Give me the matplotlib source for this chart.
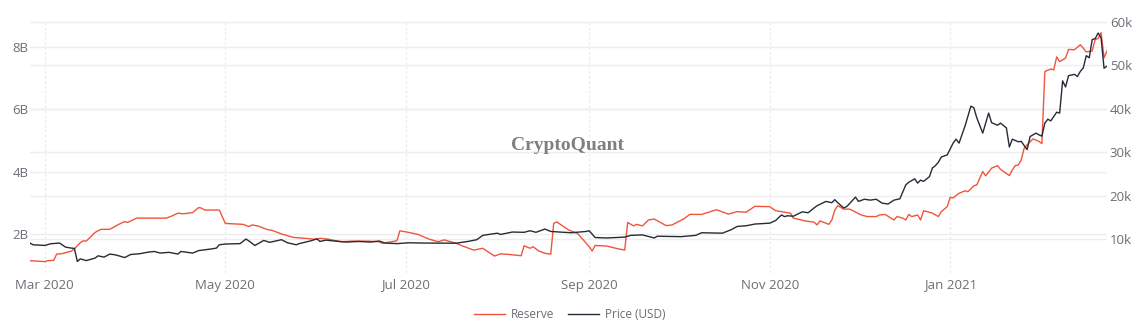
import pandas as pd
import matplotlib.pyplot as plt
import matplotlib.transforms as mtransforms
from matplotlib.lines import Line2D

plt.rcParams['font.family'] = ['Open Sans', 'DejaVu Sans']

# Exchange reserve (billions USD)
reserve_dates = [
    '2020-02-25', '2020-03-01', '2020-03-02', '2020-03-04', '2020-03-05', '2020-03-07',
    '2020-03-10', '2020-03-11', '2020-03-13', '2020-03-14', '2020-03-15', '2020-03-18',
    '2020-03-20', '2020-03-23', '2020-03-26', '2020-03-28', '2020-03-29', '2020-04-01',
    '2020-04-11', '2020-04-13', '2020-04-15', '2020-04-17', '2020-04-20', '2020-04-22',
    '2020-04-23', '2020-04-24', '2020-04-29', '2020-05-01', '2020-05-07', '2020-05-09',
    '2020-05-10', '2020-05-12', '2020-05-15', '2020-05-17', '2020-05-20', '2020-05-24',
    '2020-05-28', '2020-05-31', '2020-06-02', '2020-06-05', '2020-06-09', '2020-06-13',
    '2020-06-18', '2020-06-22', '2020-06-23', '2020-06-28', '2020-06-29', '2020-07-01',
    '2020-07-05', '2020-07-09', '2020-07-12', '2020-07-14', '2020-07-18', '2020-07-20',
    '2020-07-24', '2020-07-27', '2020-07-31', '2020-08-02', '2020-08-05', '2020-08-09',
    '2020-08-10', '2020-08-12', '2020-08-13', '2020-08-15', '2020-08-17', '2020-08-19',
    '2020-08-20', '2020-08-21', '2020-08-25', '2020-08-28', '2020-08-30', '2020-09-01',
    '2020-09-02', '2020-09-03', '2020-09-07', '2020-09-10', '2020-09-13', '2020-09-14',
    '2020-09-16', '2020-09-17', '2020-09-19', '2020-09-21', '2020-09-23', '2020-09-27',
    '2020-09-29', '2020-10-03', '2020-10-05', '2020-10-09', '2020-10-14', '2020-10-18',
    '2020-10-21', '2020-10-24', '2020-10-27', '2020-11-01', '2020-11-03', '2020-11-08',
    '2020-11-09', '2020-11-13', '2020-11-16', '2020-11-17', '2020-11-18', '2020-11-21',
    '2020-11-22', '2020-11-23', '2020-11-24', '2020-11-26', '2020-11-28', '2020-12-02',
    '2020-12-04', '2020-12-07', '2020-12-08', '2020-12-10', '2020-12-13', '2020-12-14',
    '2020-12-16', '2020-12-17', '2020-12-18', '2020-12-19', '2020-12-21', '2020-12-22',
    '2020-12-23', '2020-12-26', '2020-12-28', '2020-12-29', '2020-12-31', '2021-01-01',
    '2021-01-02', '2021-01-04', '2021-01-06', '2021-01-07', '2021-01-09', '2021-01-10',
    '2021-01-12', '2021-01-13', '2021-01-15', '2021-01-17', '2021-01-18', '2021-01-21',
    '2021-01-22', '2021-01-23', '2021-01-24', '2021-01-25', '2021-01-26', '2021-01-27',
    '2021-01-29', '2021-01-31', '2021-02-01', '2021-02-02', '2021-02-04', '2021-02-05',
    '2021-02-06', '2021-02-07', '2021-02-09', '2021-02-10', '2021-02-12', '2021-02-14',
    '2021-02-16', '2021-02-18', '2021-02-19', '2021-02-20', '2021-02-21', '2021-02-22',
    '2021-02-23',
]
reserve_bn = [
    1.13, 1.10, 1.13, 1.14, 1.34, 1.36,
    1.44, 1.51, 1.71, 1.77, 1.76, 2.04,
    2.14, 2.14, 2.30, 2.39, 2.36, 2.50,
    2.50, 2.57, 2.66, 2.64, 2.68, 2.84,
    2.82, 2.76, 2.76, 2.33, 2.30, 2.23,
    2.28, 2.25, 2.14, 2.10, 1.99, 1.88,
    1.85, 1.82, 1.85, 1.82, 1.74, 1.76,
    1.76, 1.74, 1.69, 1.77, 2.09, 2.06,
    1.98, 1.82, 1.74, 1.80, 1.69, 1.61,
    1.47, 1.53, 1.28, 1.35, 1.33, 1.29,
    1.61, 1.53, 1.58, 1.44, 1.37, 1.34,
    2.33, 2.38, 2.12, 2.01, 1.80, 1.58,
    1.44, 1.62, 1.60, 1.53, 1.47, 2.36,
    2.25, 2.30, 2.25, 2.44, 2.47, 2.26,
    2.28, 2.48, 2.62, 2.62, 2.77, 2.63,
    2.71, 2.69, 2.88, 2.87, 2.74, 2.66,
    2.50, 2.41, 2.37, 2.28, 2.41, 2.30,
    2.44, 2.76, 2.90, 2.79, 2.79, 2.60,
    2.55, 2.55, 2.60, 2.62, 2.44, 2.55,
    2.50, 2.44, 2.62, 2.55, 2.60, 2.44,
    2.74, 2.66, 2.55, 2.71, 2.87, 3.17,
    3.15, 3.30, 3.38, 3.35, 3.54, 3.57,
    4.00, 3.86, 4.11, 4.19, 4.07, 3.87,
    4.05, 4.19, 4.21, 4.37, 4.75, 4.86,
    5.05, 4.97, 4.90, 7.22, 7.30, 7.27,
    7.69, 7.54, 7.65, 7.93, 7.92, 8.08,
    7.85, 7.88, 8.25, 8.28, 8.47, 7.66,
    7.88,
]

# BTC price (USD)
price_dates = [
    '2020-02-25', '2020-02-26', '2020-03-01', '2020-03-03', '2020-03-06', '2020-03-08',
    '2020-03-10', '2020-03-11', '2020-03-12', '2020-03-13', '2020-03-15', '2020-03-18',
    '2020-03-19', '2020-03-21', '2020-03-23', '2020-03-25', '2020-03-28', '2020-03-30',
    '2020-04-02', '2020-04-05', '2020-04-07', '2020-04-09', '2020-04-12', '2020-04-15',
    '2020-04-16', '2020-04-20', '2020-04-22', '2020-04-26', '2020-04-28', '2020-04-29',
    '2020-05-01', '2020-05-06', '2020-05-08', '2020-05-09', '2020-05-11', '2020-05-12',
    '2020-05-14', '2020-05-16', '2020-05-18', '2020-05-20', '2020-05-22', '2020-05-24',
    '2020-05-25', '2020-05-26', '2020-05-30', '2020-06-01', '2020-06-02', '2020-06-04',
    '2020-06-07', '2020-06-11', '2020-06-15', '2020-06-19', '2020-06-22', '2020-06-24',
    '2020-06-28', '2020-07-02', '2020-07-07', '2020-07-13', '2020-07-18', '2020-07-22',
    '2020-07-25', '2020-07-27', '2020-07-30', '2020-08-01', '2020-08-02', '2020-08-06',
    '2020-08-10', '2020-08-12', '2020-08-14', '2020-08-17', '2020-08-19', '2020-08-22',
    '2020-08-26', '2020-08-31', '2020-09-01', '2020-09-03', '2020-09-07', '2020-09-13',
    '2020-09-15', '2020-09-19', '2020-09-23', '2020-09-24', '2020-10-02', '2020-10-07',
    '2020-10-09', '2020-10-13', '2020-10-16', '2020-10-19', '2020-10-21', '2020-10-24',
    '2020-10-27', '2020-11-01', '2020-11-03', '2020-11-05', '2020-11-06', '2020-11-07',
    '2020-11-09', '2020-11-12', '2020-11-14', '2020-11-16', '2020-11-17', '2020-11-20',
    '2020-11-22', '2020-11-23', '2020-11-24', '2020-11-26', '2020-11-27', '2020-11-28',
    '2020-11-30', '2020-12-01', '2020-12-03', '2020-12-05', '2020-12-07', '2020-12-09',
    '2020-12-11', '2020-12-13', '2020-12-15', '2020-12-17', '2020-12-18', '2020-12-20',
    '2020-12-21', '2020-12-22', '2020-12-23', '2020-12-25', '2020-12-26', '2020-12-27',
    '2020-12-28', '2020-12-29', '2020-12-31', '2021-01-02', '2021-01-03', '2021-01-04',
    '2021-01-06', '2021-01-08', '2021-01-09', '2021-01-10', '2021-01-12', '2021-01-14',
    '2021-01-15', '2021-01-17', '2021-01-18', '2021-01-20', '2021-01-21', '2021-01-22',
    '2021-01-24', '2021-01-25', '2021-01-27', '2021-01-28', '2021-01-30', '2021-01-31',
    '2021-02-01', '2021-02-02', '2021-02-03', '2021-02-04', '2021-02-05', '2021-02-06',
    '2021-02-07', '2021-02-08', '2021-02-09', '2021-02-10', '2021-02-12', '2021-02-13',
    '2021-02-14', '2021-02-15', '2021-02-16', '2021-02-17', '2021-02-18', '2021-02-19',
    '2021-02-20', '2021-02-21', '2021-02-22', '2021-02-23',
]
price_usd = [
    9130, 8740, 8580, 8970, 9130, 8200,
    7970, 7900, 4900, 5500, 5100, 5670,
    6200, 5900, 6600, 6400, 5800, 6500,
    6670, 7050, 7200, 6830, 7000, 6600,
    7200, 6830, 7400, 7750, 7970, 8740,
    8900, 9000, 10050, 9600, 8580, 8970,
    9730, 9300, 9600, 9900, 9200, 8900,
    8740, 9000, 9660, 10100, 9500, 9800,
    9600, 9360, 9500, 9360, 9600, 9130,
    9000, 9200, 9130, 9100, 9100, 9500,
    9900, 10900, 11200, 11400, 11100, 11660,
    11600, 11960, 11600, 12350, 11800, 11660,
    11500, 11800, 11960, 10400, 10300, 10500,
    10900, 11000, 10300, 10700, 10600, 10900,
    11500, 11450, 11400, 12200, 12950, 13100,
    13500, 13700, 14300, 15600, 15200, 15400,
    15300, 16300, 16100, 17200, 17700, 18700,
    18400, 19100, 18400, 17200, 17500, 18200,
    19700, 18700, 19200, 19000, 19200, 18300,
    18100, 19000, 19300, 22500, 23100, 23900,
    22900, 23600, 23300, 24400, 26400, 26900,
    27700, 28900, 29400, 32100, 33000, 32100,
    36000, 40600, 40200, 37900, 34400, 39000,
    36800, 36200, 36700, 35600, 31200, 33000,
    32400, 32500, 30600, 33600, 34400, 34000,
    33700, 36700, 37600, 37200, 38200, 39200,
    39000, 46400, 45000, 47600, 47900, 47400,
    48600, 49400, 52200, 51700, 55900, 56100,
    57400, 56300, 49300, 49800,
]

month_ticks = ['2020-03-01', '2020-05-01', '2020-07-01', '2020-09-01', '2020-11-01', '2021-01-01']
month_labels = ['Mar 2020', 'May 2020', 'Jul 2020', 'Sep 2020', 'Nov 2020', 'Jan 2021']
reserve_ticks = [2, 4, 6, 8]
price_ticks = [10000, 20000, 30000, 40000, 50000, 60000]

red = '#f0553c'
dark = '#262b36'
grid = '#eeeeee'
label_col = '#6a6e76'

fig = plt.figure(figsize=(11.39, 3.3), dpi=100)
ax = fig.add_axes([30 / 1139, 57 / 330, 1077 / 1139, 252 / 330])
ax2 = ax.twinx()

ax.plot(pd.to_datetime(reserve_dates), reserve_bn, color=red, lw=1.0, zorder=3)
ax2.plot(pd.to_datetime(price_dates), price_usd, color=dark, lw=1.0, zorder=3)

ax.set_xlim(pd.Timestamp('2020-02-25'), pd.Timestamp('2021-02-23'))
ax.set_ylim(0.734, 8.845)
ax2.set_ylim(2250, 60160)

ax.set_xticks(pd.to_datetime(month_ticks))
ax.set_xticklabels(month_labels)
ax.set_yticks(reserve_ticks)
ax.set_yticklabels([f'{v}B' for v in reserve_ticks])
ax2.set_yticks(price_ticks)
ax2.set_yticklabels([f'{v // 1000}k' for v in price_ticks])

# grid lines all sit under both series
ax.grid(axis='y', color=grid, lw=1.0, zorder=0)
ax.grid(axis='x', color='#ededed', lw=1.0, linestyle=(0, (2, 1.5)), zorder=0)
ax2.grid(False)
blend = mtransforms.blended_transform_factory(ax.transAxes, ax2.transData)
for p in price_ticks:
    ax.plot([0, 1], [p, p], transform=blend, color=grid, lw=1.0, zorder=0)

for a in (ax, ax2):
    for s in a.spines.values():
        s.set_visible(False)
    a.tick_params(length=0, labelsize=9.5, labelcolor=label_col)
ax.tick_params(axis='y', pad=1)
ax.tick_params(axis='x', pad=4)
ax2.tick_params(axis='y', pad=2)

# watermark
fig.text(568 / 1139, 1 - 146 / 330, 'CryptoQuant', ha='center', va='center',
         fontsize=14, fontweight='bold', family='Liberation Serif', color='#7d7f83')

handles = [Line2D([], [], color=red, lw=1.0), Line2D([], [], color=dark, lw=1.0)]
fig.legend(handles, ['Reserve', 'Price (USD)'], loc='center', bbox_to_anchor=(0.5, 15 / 330),
           ncol=2, frameon=False, fontsize=8.5, handlelength=2.6, columnspacing=1.2,
           handletextpad=0.5, labelcolor=label_col)

fig.savefig('out.png', dpi=100)
